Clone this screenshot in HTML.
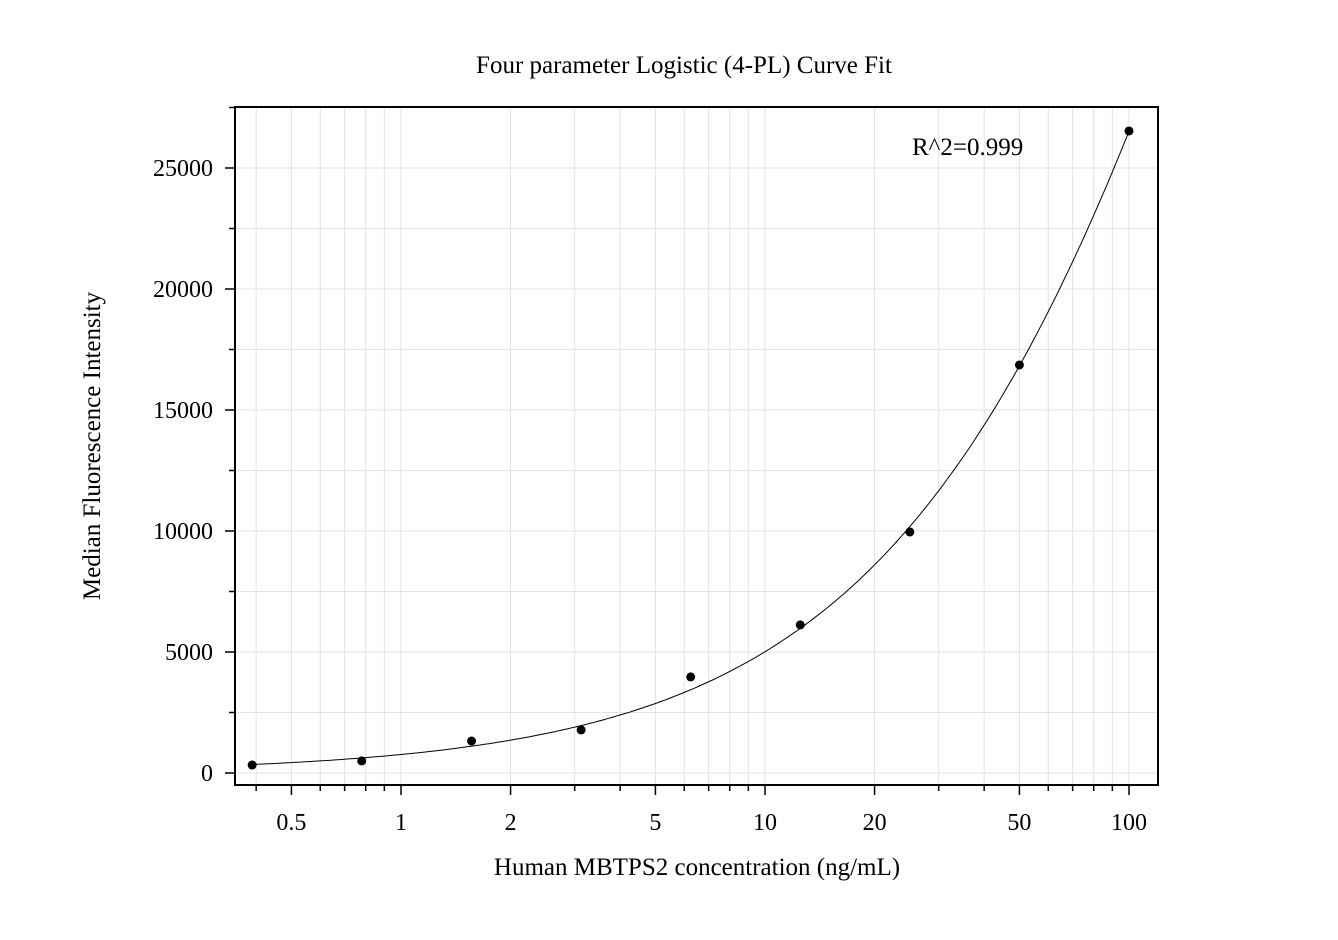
<!DOCTYPE html>
<html><head><meta charset="utf-8"><style>
html,body{margin:0;padding:0;background:#fff;}
svg text{font-family:"Liberation Serif",serif;fill:#000;}
</style></head><body>
<svg id="chart" width="1338" height="935" viewBox="0 0 1338 935" xmlns="http://www.w3.org/2000/svg">
<rect width="1338" height="935" fill="#fff"/>
<text x="684" y="73" font-size="25" text-anchor="middle">Four parameter Logistic (4-PL) Curve Fit</text>
<g id="grid"></g>
<g id="curve"></g>
<g id="points"></g>
<g id="axes"></g>
<rect x="235" y="107" width="923" height="678" fill="none" stroke="#000" stroke-width="2"/>
<text x="912" y="155" font-size="25">R^2=0.999</text>
<text x="697" y="875" font-size="25" text-anchor="middle">Human MBTPS2 concentration (ng/mL)</text>
<text transform="translate(100,446) rotate(-90)" font-size="25" text-anchor="middle">Median Fluorescence Intensity</text>
</svg>
<script>
const concentrations = [0.39, 0.78, 1.5625, 3.125, 6.25, 12.5, 25, 50, 100];
const mfiValues = [330, 500, 1320, 1780, 3970, 6120, 9960, 16860, 26530];
const xTickLabels = ["0.5", "1", "2", "5", "10", "20", "50", "100"];
const yTickLabels = ["0", "5000", "10000", "15000", "20000", "25000"];
const fitA = 0, fitB = 0.835, fitC = 339, fitD = 100000;

const L = 235, R = 1158, T = 107, B = 785;
const xs = v => 401 + 364 * Math.log10(v);
const ys = v => 773 - v * 0.0242;
const NS = "http://www.w3.org/2000/svg";
function mk(tag, parent, attrs) { const e = document.createElementNS(NS, tag); for (const k in attrs) e.setAttribute(k, attrs[k]); parent.appendChild(e); return e; }
const grid = document.getElementById('grid'), axes = document.getElementById('axes');

const xMinor = [];
for (let dec = 0.1; dec <= 100; dec *= 10) for (let m = 1; m <= 9; m++) { const v = +(dec * m).toPrecision(3); if (v >= 0.36 && v <= 115) xMinor.push(v); }
xMinor.forEach(v => {
  const x = xs(v);
  const g = mk('line', grid, {x1: x, x2: x, y1: T, y2: B, stroke: '#e3e3e3', 'stroke-width': 1});
  
  
  const major = xTickLabels.includes(String(v));
  const t = mk('line', axes, {x1: x, x2: x, y1: B, y2: B + (major ? 10 : 6), stroke: '#000', 'stroke-width': 1.5});
  
  
});
xTickLabels.forEach(s => {
  const t = mk('text', axes, {x: xs(parseFloat(s)), y: 830, 'font-size': 24, 'text-anchor': 'middle'});
  t.textContent = s;
  
  
});
for (let v = 0; v <= 27500; v += 2500) {
  const y = ys(v);
  const g = mk('line', grid, {x1: L, x2: R, y1: y, y2: y, stroke: '#e3e3e3', 'stroke-width': 1});
  
  
  const major = v % 5000 === 0;
  const t = mk('line', axes, {x1: L - (major ? 10 : 6), x2: L, y1: y, y2: y, stroke: '#000', 'stroke-width': 1.5});
  
  
}
yTickLabels.forEach(s => {
  const t = mk('text', axes, {x: 213, y: ys(parseFloat(s)) + 8, 'font-size': 24, 'text-anchor': 'end'});
  t.textContent = s;
  
  
});
const fit = x => fitD + (fitA - fitD) / (1 + Math.pow(x / fitC, fitB));
let d = '';
for (let i = 0; i <= 200; i++) {
  const lx = Math.log10(0.39) + (Math.log10(100) - Math.log10(0.39)) * i / 200;
  const x = Math.pow(10, lx);
  d += (i ? 'L' : 'M') + xs(x).toFixed(1) + ',' + ys(fit(x)).toFixed(1);
}
const c = mk('path', document.getElementById('curve'), {d: d, fill: 'none', stroke: '#000', 'stroke-width': 1});


const pts = document.getElementById('points');
concentrations.forEach((x, i) => {
  const p = mk('circle', pts, {cx: xs(x), cy: ys(mfiValues[i]), r: 4.5, fill: '#000'});
  
  
});
</script>
</body></html>
